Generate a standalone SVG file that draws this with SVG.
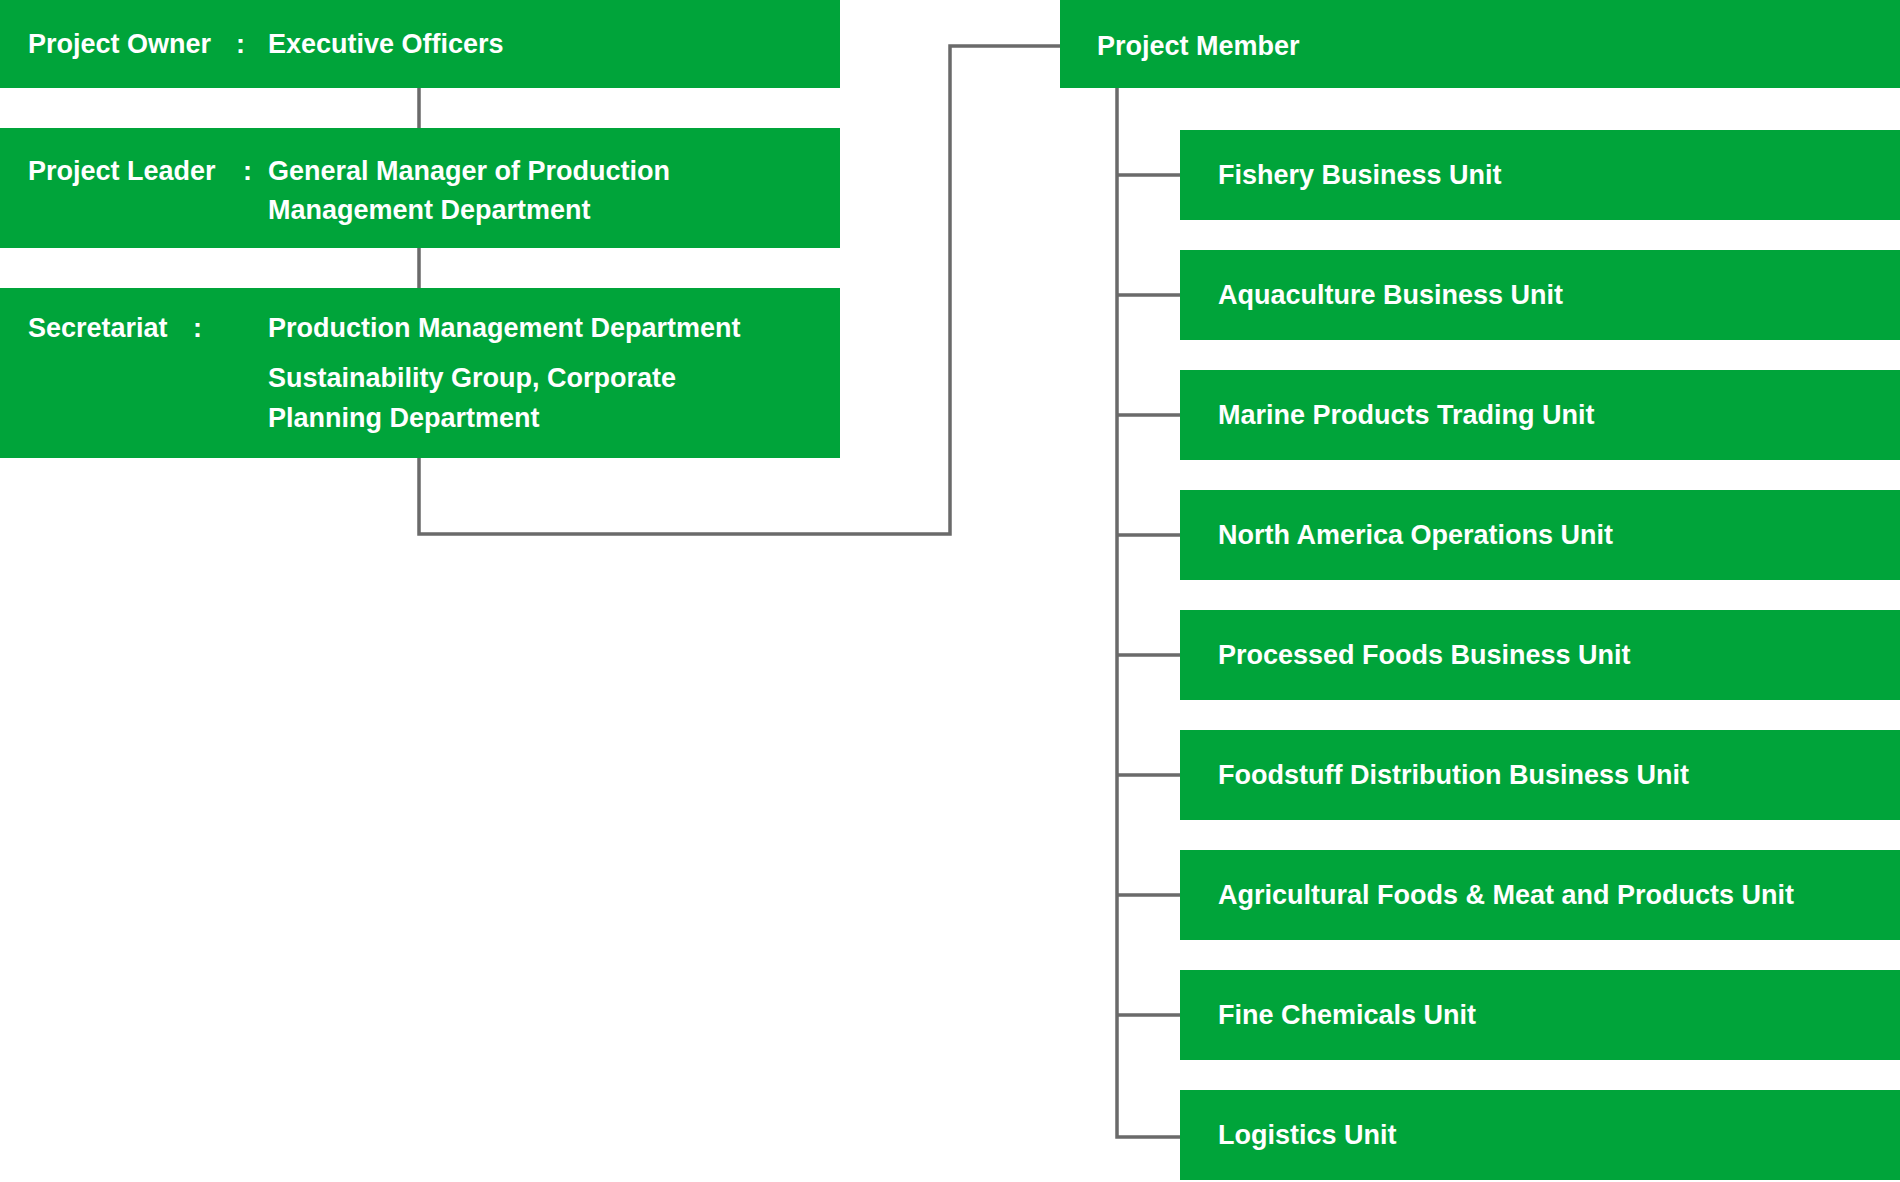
<svg xmlns="http://www.w3.org/2000/svg" width="1900" height="1182" viewBox="0 0 1900 1182">
<style>
.b{fill:#00a43a}
.t{font-family:"Liberation Sans",Arial,sans-serif;font-weight:bold;font-size:27px;fill:#fff}
.c{fill:none;stroke:#6a6a6a;stroke-width:3.5}
</style>
<rect width="1900" height="1182" fill="#fff"/>
<g id="connectors" class="c">
<path d="M419 88V128M419 248V288M419 458V534H950V46H1060"/>
<path d="M1117 88V1137H1180"/>
<path d="M1117 175H1180M1117 295H1180M1117 415H1180M1117 535H1180M1117 655H1180M1117 775H1180M1117 895H1180M1117 1015H1180"/>
</g>
<g id="owner"><rect class="b" x="0" y="0" width="840" height="88"/><text class="t" x="28" y="53">Project Owner</text><text class="t" x="236" y="53">:</text><text class="t" x="268" y="53">Executive Officers</text></g>
<g id="leader"><rect class="b" x="0" y="128" width="840" height="120"/><text class="t" x="28" y="180">Project Leader</text><text class="t" x="243" y="180">:</text><text class="t" x="268" y="180">General Manager of Production</text><text class="t" x="268" y="219">Management Department</text></g>
<g id="secretariat"><rect class="b" x="0" y="288" width="840" height="170"/><text class="t" x="28" y="337">Secretariat</text><text class="t" x="193" y="337">:</text><text class="t" x="268" y="337">Production Management Department</text><text class="t" x="268" y="387">Sustainability Group, Corporate</text><text class="t" x="268" y="427">Planning Department</text></g>
<g id="member"><rect class="b" x="1060" y="0" width="840" height="88"/><text class="t" x="1097" y="55">Project Member</text></g>
<g id="u1"><rect class="b" x="1180" y="130" width="720" height="90"/><text class="t" x="1218" y="184">Fishery Business Unit</text></g>
<g id="u2"><rect class="b" x="1180" y="250" width="720" height="90"/><text class="t" x="1218" y="304">Aquaculture Business Unit</text></g>
<g id="u3"><rect class="b" x="1180" y="370" width="720" height="90"/><text class="t" x="1218" y="424">Marine Products Trading Unit</text></g>
<g id="u4"><rect class="b" x="1180" y="490" width="720" height="90"/><text class="t" x="1218" y="544">North America Operations Unit</text></g>
<g id="u5"><rect class="b" x="1180" y="610" width="720" height="90"/><text class="t" x="1218" y="664">Processed Foods Business Unit</text></g>
<g id="u6"><rect class="b" x="1180" y="730" width="720" height="90"/><text class="t" x="1218" y="784">Foodstuff Distribution Business Unit</text></g>
<g id="u7"><rect class="b" x="1180" y="850" width="720" height="90"/><text class="t" x="1218" y="904">Agricultural Foods &amp; Meat and Products Unit</text></g>
<g id="u8"><rect class="b" x="1180" y="970" width="720" height="90"/><text class="t" x="1218" y="1024">Fine Chemicals Unit</text></g>
<g id="u9"><rect class="b" x="1180" y="1090" width="720" height="90"/><text class="t" x="1218" y="1144">Logistics Unit</text></g>
</svg>
